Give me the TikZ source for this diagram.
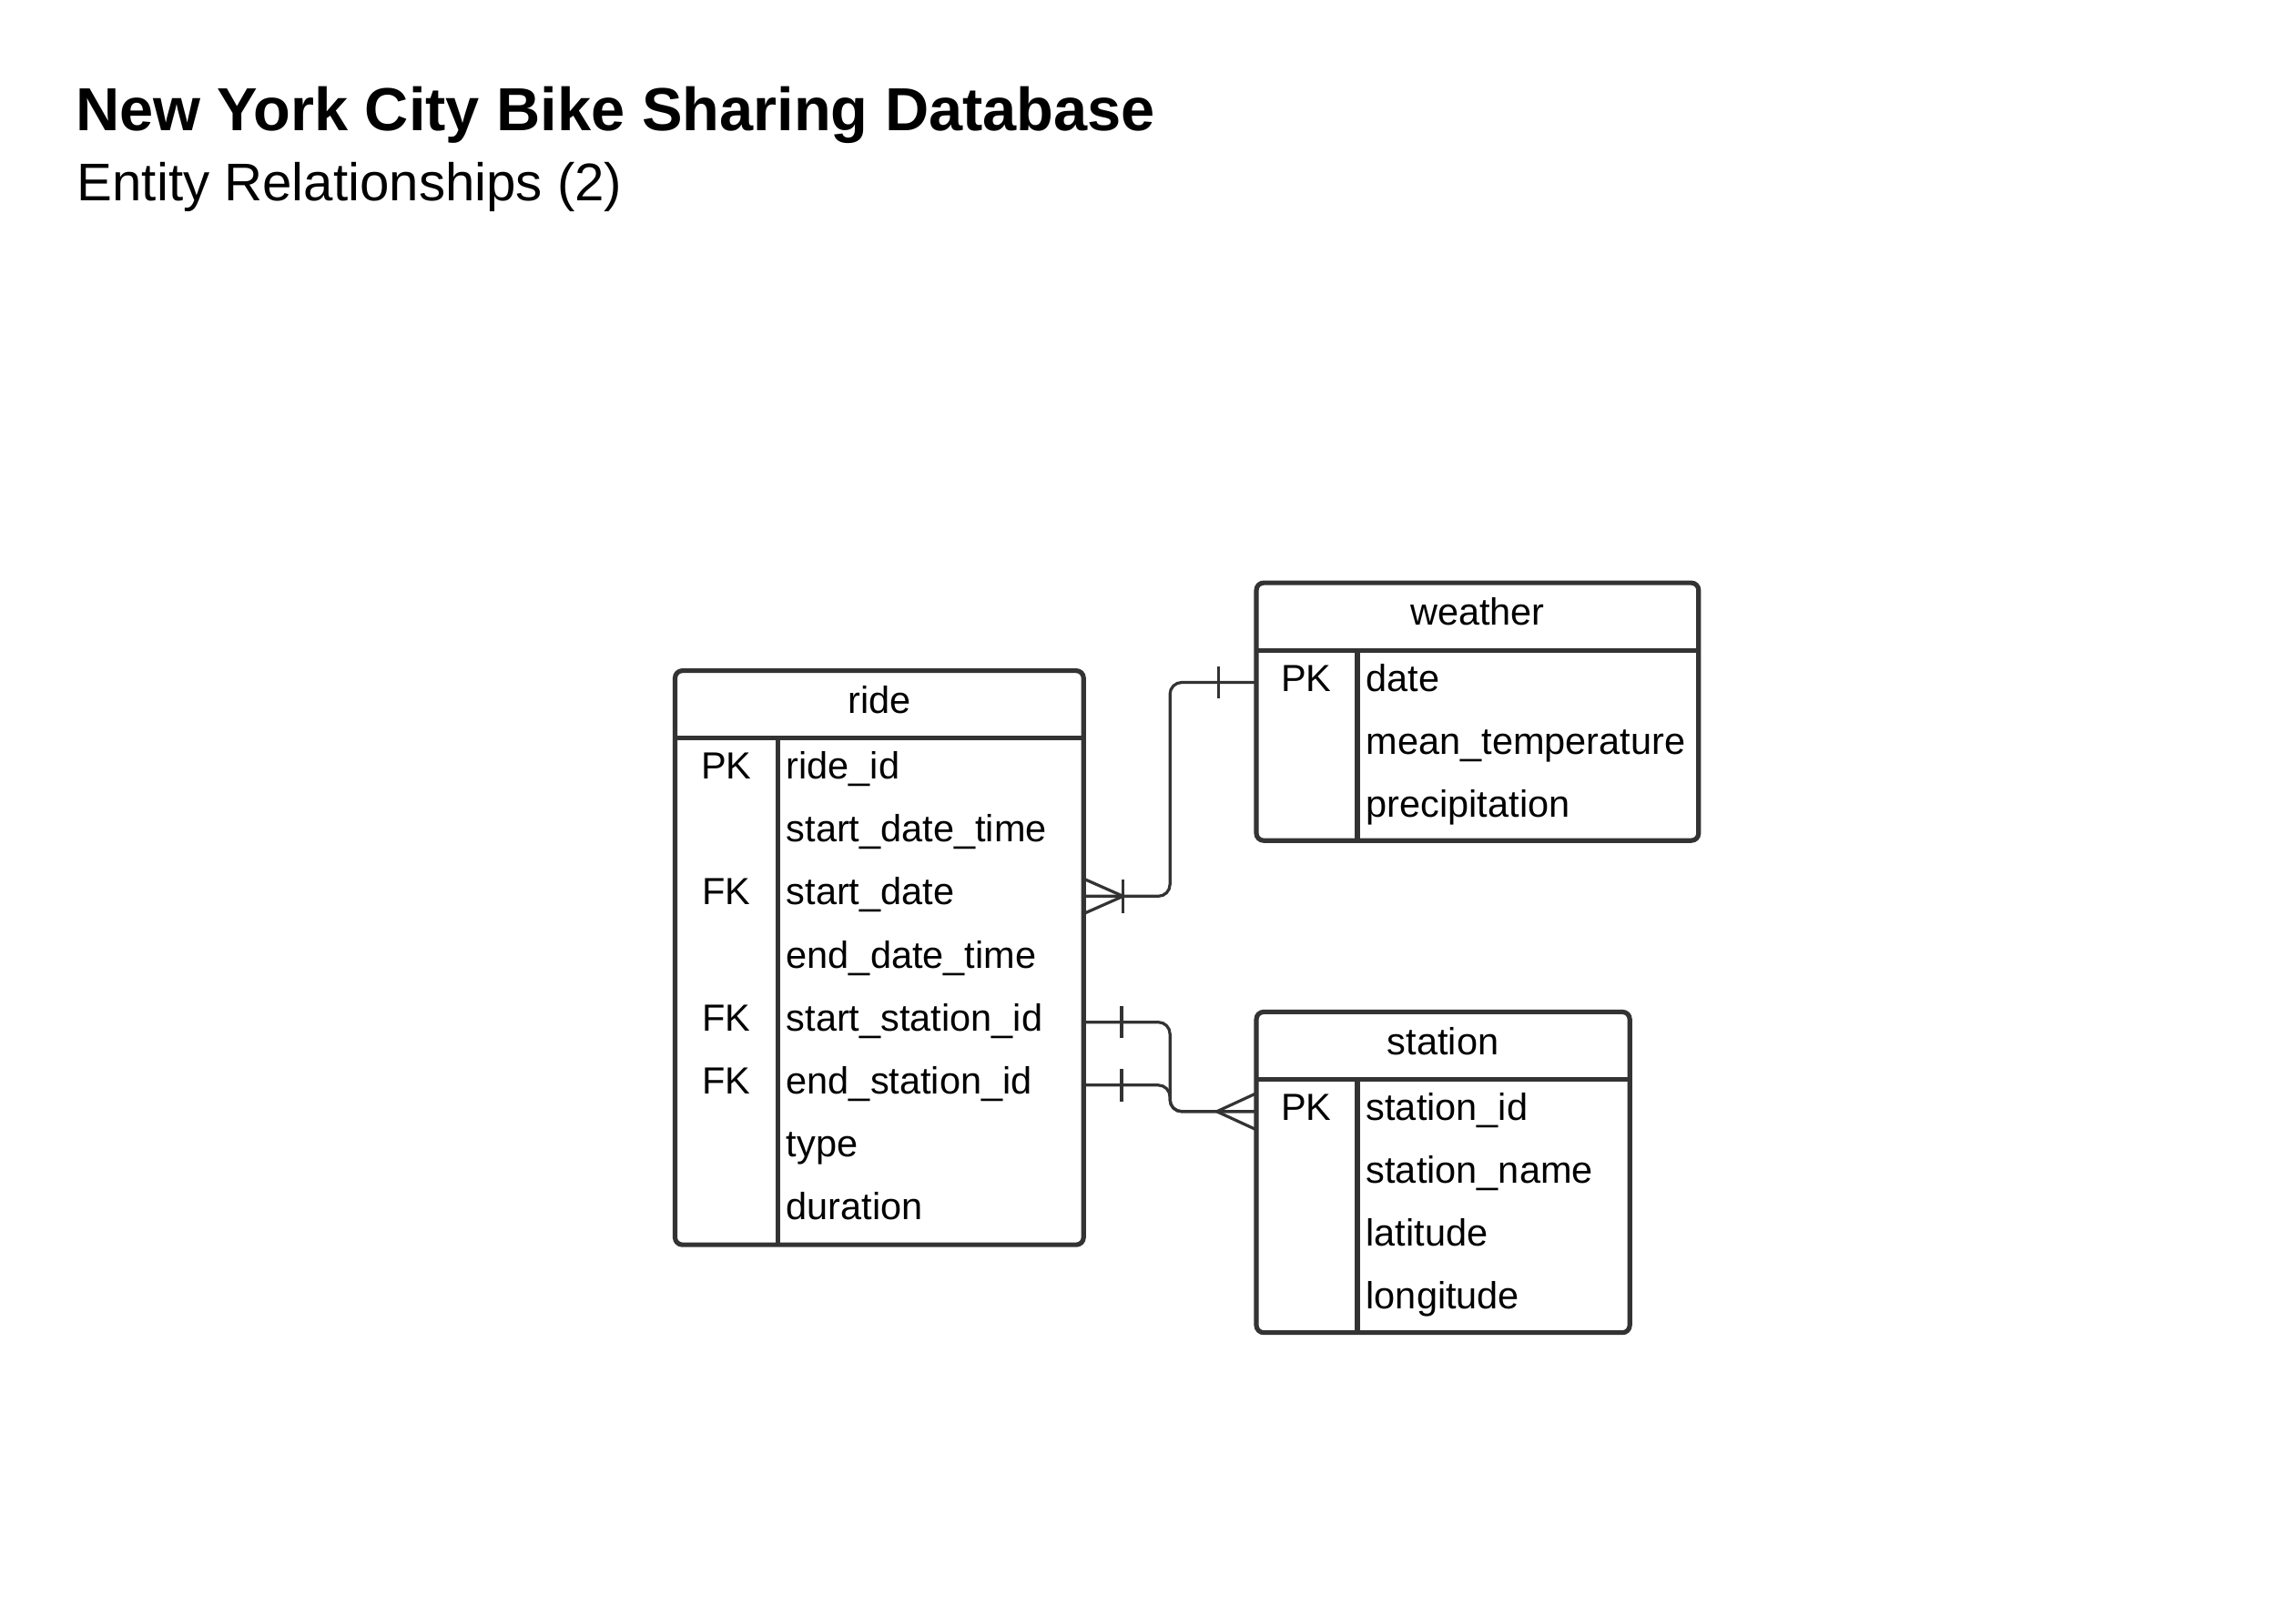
\documentclass[tikz,border=0pt]{standalone}
\usepackage{fontspec}
\setmainfont{Liberation Sans}
\usetikzlibrary{positioning}
\definecolor{erline}{HTML}{333333}

\begin{document}
\begin{tikzpicture}[x=1pt, y=1pt,
    table/.style={draw=erline, line width=3.2pt, rounded corners=5pt, inner sep=0pt, outer sep=0pt},
    rule/.style={draw=erline, line width=3.2pt},
    header/.style={minimum height=46pt, inner sep=0pt, outer sep=0pt, font=\fontsize{25.8}{30}\selectfont, text height=19pt, text depth=7pt},
    field/.style={minimum height=43pt, inner ysep=0pt, inner xsep=6pt, outer sep=0pt, text width=#1, align=left, font=\fontsize{25.8}{30}\selectfont, text height=19pt, text depth=7pt},
    key/.style={minimum height=43pt, minimum width=70pt, inner sep=0pt, outer sep=0pt, font=\fontsize{25.8}{30}\selectfont, text height=19pt, text depth=7pt},
    rel/.style={draw=erline, line width=2pt, rounded corners=8pt},
    erbar/.style={draw=erline, line width=2pt}]
    \useasboundingbox (0,0) rectangle (1568,1097);

    \node[anchor=base west, inner sep=0pt, font=\fontsize{41.5}{49}\selectfont\bfseries] (title) at (51.5,1008) {New York City Bike Sharing Database};
    \node[anchor=base west, inner sep=0pt, font=\fontsize{36.2}{43}\selectfont] (subtitle) at (52.5,960) {Entity Relationships (2)};

    \node[table, minimum width=279pt, minimum height=392pt] (ride) at (600.5,443) {};
    \node[header, below=0pt of ride.north] (ridehead) {ride};
    \node[field=197pt, anchor=west] (rf1) at ([xshift=70pt, yshift=-68pt]ride.north west) {ride\_id};
    \node[field=197pt, below=0pt of rf1] (rf2) {start\_date\_time};
    \node[field=197pt, below=0pt of rf2] (rf3) {start\_date};
    \node[field=197pt, below=0pt of rf3] (rf4) {end\_date\_time};
    \node[field=197pt, below=0pt of rf4] (rf5) {start\_station\_id};
    \node[field=197pt, below=0pt of rf5] (rf6) {end\_station\_id};
    \node[field=197pt, below=0pt of rf6] (rf7) {type};
    \node[field=197pt, below=0pt of rf7] (rf8) {duration};
    \node[key, left=0pt of rf1] (rk1) {PK};
    \node[key, left=0pt of rf3] (rk3) {FK};
    \node[key, left=0pt of rf5] (rk5) {FK};
    \node[key, left=0pt of rf6] (rk6) {FK};
    \draw[rule] (ride.west |- ridehead.south) -- (ride.east |- ridehead.south);
    \draw[rule] (rf1.west |- ridehead.south) -- (rf1.west |- ride.south);

    \node[table, minimum width=302pt, minimum height=176pt] (weather) at (1009,611) {};
    \node[header, below=0pt of weather.north] (weatherhead) {weather};
    \node[field=221pt, anchor=west] (wf1) at ([xshift=69pt, yshift=-68pt]weather.north west) {date};
    \node[field=221pt, below=0pt of wf1] (wf2) {mean\_temperature};
    \node[field=221pt, below=0pt of wf2] (wf3) {precipitation};
    \node[key, left=0pt of wf1] (wk1) {PK};
    \draw[rule] (weather.west |- weatherhead.south) -- (weather.east |- weatherhead.south);
    \draw[rule] (wf1.west |- weatherhead.south) -- (wf1.west |- weather.south);

    \node[table, minimum width=255pt, minimum height=219pt] (station) at (985.5,296.5) {};
    \node[header, below=0pt of station.north] (stationhead) {station};
    \node[field=174pt, anchor=west] (sf1) at ([xshift=69pt, yshift=-68pt]station.north west) {station\_id};
    \node[field=174pt, below=0pt of sf1] (sf2) {station\_name};
    \node[field=174pt, below=0pt of sf2] (sf3) {latitude};
    \node[field=174pt, below=0pt of sf3] (sf4) {longitude};
    \node[key, left=0pt of sf1] (sk1) {PK};
    \draw[rule] (station.west |- stationhead.south) -- (station.east |- stationhead.south);
    \draw[rule] (sf1.west |- stationhead.south) -- (sf1.west |- station.south);

    \coordinate (bend) at (799,0);
    \coordinate (wdate) at (weather.west |- wf1);
    \coordinate (rdate) at (ride.east |- rf3);
    \coordinate (rstart) at (ride.east |- rf5);
    \coordinate (rend) at (ride.east |- rf6);
    \coordinate (sid) at (station.west |- sf1);

    \draw[rel] (wdate) -| (bend |- rdate) -- (rdate);
    \draw[rel] (rstart) -| (bend |- sid) -- (sid);
    \draw[rel] (rend) -| (bend |- sid) -- (sid);

    \draw[erbar] ([shift={(-26,11)}]wdate) -- ([shift={(-26,-11)}]wdate);
    \draw[erbar] ([shift={(27,11.5)}]rdate) -- ([shift={(27,-11.5)}]rdate);
    \draw[erbar] ([shift={(1,11.5)}]rdate) -- ([shift={(27,0)}]rdate) -- ([shift={(1,-11.5)}]rdate);
    \draw[erbar] ([shift={(26,11)}]rstart) -- ([shift={(26,-11)}]rstart);
    \draw[erbar] ([shift={(26,11)}]rend) -- ([shift={(26,-11)}]rend);
    \draw[erbar] ([shift={(-1,12)}]sid) -- ([shift={(-27,0)}]sid) -- ([shift={(-1,-12)}]sid);
\end{tikzpicture}
\end{document}
